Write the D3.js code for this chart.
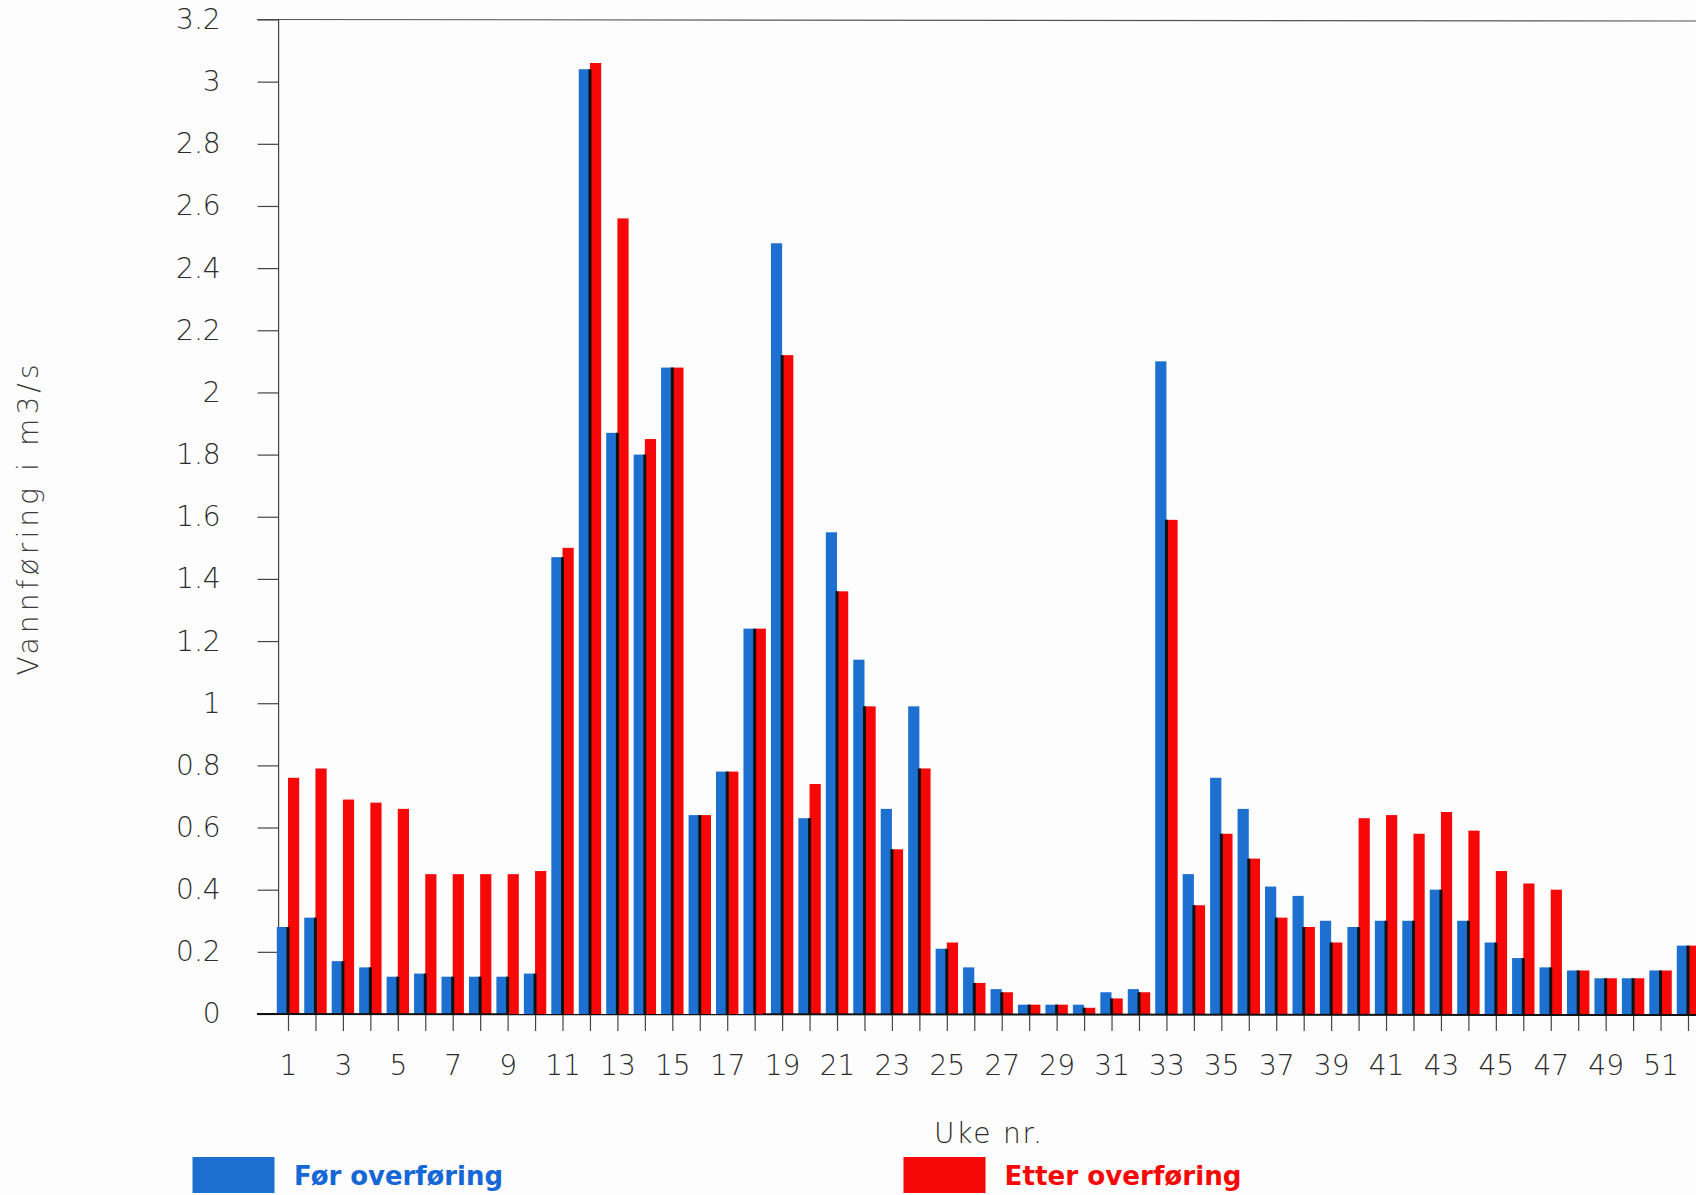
<!DOCTYPE html>
<html>
<head>
<meta charset="utf-8">
<script src="https://cdn.jsdelivr.net/npm/d3@7"></script>
<style>
  html, body { margin: 0; padding: 0; background: #fdfdfd; }
  svg { display: block; }
</style>
</head>
<body>
<svg id="chart" width="1696" height="1195"></svg>
<script>
// Weekly discharge (m3/s) before and after the transfer
const weeks = [1,2,3,4,5,6,7,8,9,10,11,12,13,14,15,16,17,18,19,20,21,22,23,24,25,26,
               27,28,29,30,31,32,33,34,35,36,37,38,39,40,41,42,43,44,45,46,47,48,49,50,51,52];

const forOverforing = [0.28,0.31,0.17,0.15,0.12,0.13,0.12,0.12,0.12,0.13,
                       1.47,3.04,1.87,1.80,2.08,0.64,0.78,1.24,2.48,0.63,
                       1.55,1.14,0.66,0.99,0.21,0.15,0.08,0.03,0.03,0.03,
                       0.07,0.08,2.10,0.45,0.76,0.66,0.41,0.38,0.30,0.28,
                       0.30,0.30,0.40,0.30,0.23,0.18,0.15,0.14,0.115,0.115,
                       0.14,0.22];

const etterOverforing = [0.76,0.79,0.69,0.68,0.66,0.45,0.45,0.45,0.45,0.46,
                         1.50,3.06,2.56,1.85,2.08,0.64,0.78,1.24,2.12,0.74,
                         1.36,0.99,0.53,0.79,0.23,0.10,0.07,0.03,0.03,0.02,
                         0.05,0.07,1.59,0.35,0.58,0.50,0.31,0.28,0.23,0.63,
                         0.64,0.58,0.65,0.59,0.46,0.42,0.40,0.14,0.115,0.115,
                         0.14,0.22];

const yTicks = [0,0.2,0.4,0.6,0.8,1,1.2,1.4,1.6,1.8,2,2.2,2.4,2.6,2.8,3,3.2];
const xLabelWeeks = [1,3,5,7,9,11,13,15,17,19,21,23,25,27,29,31,33,35,37,39,41,43,45,47,49,51];

const seriesNames = ["Før overføring", "Etter overføring"];
const seriesColors = ["#1d6fd0", "#f70808"];

const svg = d3.select("#chart");
const W = 1696;

const axisLeftX = 278.6;
const baseY = 1014;
const topY = 19.5;

const x = d3.scaleLinear().domain([1, 52]).range([288, 1688]);
const y = d3.scaleLinear().domain([0, 3.2]).range([baseY, topY]);
const barW = 11.2;

const tickFont = "'DejaVu Sans', 'Liberation Sans', sans-serif";

// frame lines
svg.append("line")
  .attr("x1", 257).attr("x2", W).attr("y1", topY).attr("y2", topY + 1.5)
  .attr("stroke", "#555").attr("stroke-width", 1.2);
svg.append("line")
  .attr("x1", axisLeftX).attr("x2", axisLeftX).attr("y1", topY).attr("y2", baseY)
  .attr("stroke", "#444").attr("stroke-width", 1.2);

// y axis
const yAxis = svg.append("g")
  .attr("transform", `translate(${axisLeftX},0)`)
  .call(d3.axisLeft(y).tickValues(yTicks).tickSize(21).tickPadding(37)
        .tickFormat(d => String(+d.toFixed(1))));
yAxis.select(".domain").remove();
yAxis.selectAll(".tick line").attr("stroke", "#444").attr("stroke-width", 1.2);
yAxis.selectAll(".tick text")
  .attr("font-family", tickFont).attr("font-size", 28).attr("font-weight", 200)
  .attr("fill", "#2b2b2b");

// x axis
const xAxis = svg.append("g")
  .attr("transform", `translate(0,${baseY})`)
  .call(d3.axisBottom(x).tickValues(weeks).tickSize(17).tickPadding(24)
        .tickFormat(d => xLabelWeeks.includes(d) ? String(d) : ""));
xAxis.select(".domain").remove();
xAxis.selectAll(".tick line").attr("stroke", "#444").attr("stroke-width", 1.2);
xAxis.selectAll(".tick text")
  .attr("font-family", tickFont).attr("font-size", 28).attr("font-weight", 200)
  .attr("fill", "#2b2b2b");

// bars
const rows = weeks.map((w, i) => ({ w, a: forOverforing[i], b: etterOverforing[i] }));
const bars = svg.append("g");
bars.selectAll("rect.for").data(rows).join("rect")
  .attr("class", "for")
  .attr("x", d => x(d.w) - barW).attr("width", barW)
  .attr("y", d => y(d.a)).attr("height", d => baseY - y(d.a))
  .attr("fill", seriesColors[0]);
bars.selectAll("rect.etter").data(rows).join("rect")
  .attr("class", "etter")
  .attr("x", d => x(d.w)).attr("width", barW)
  .attr("y", d => y(d.b)).attr("height", d => baseY - y(d.b))
  .attr("fill", seriesColors[1]);
// dark seam where the two bars of a week meet
bars.selectAll("line.seam").data(rows).join("line")
  .attr("class", "seam")
  .attr("x1", d => x(d.w)).attr("x2", d => x(d.w))
  .attr("y1", baseY).attr("y2", d => y(Math.min(d.a, d.b)))
  .attr("stroke", "#111").attr("stroke-width", 3);

// baseline
svg.append("line")
  .attr("x1", 257).attr("x2", W).attr("y1", baseY).attr("y2", baseY + 1)
  .attr("stroke", "#111").attr("stroke-width", 2);

// axis titles
svg.append("text")
  .attr("x", 988).attr("y", 1143).attr("text-anchor", "middle")
  .attr("font-family", tickFont).attr("font-size", 28).attr("font-weight", 200)
  .attr("fill", "#2b2b2b")
  .attr("textLength", 108).attr("lengthAdjust", "spacing")
  .text("Uke nr.");

svg.append("text")
  .attr("transform", "translate(38,520) rotate(-90)")
  .attr("text-anchor", "middle")
  .attr("font-family", tickFont).attr("font-size", 28).attr("font-weight", 200)
  .attr("fill", "#3a3a3a")
  .attr("textLength", 311).attr("lengthAdjust", "spacing")
  .text("Vannføring i m3/s");

// legend
const legend = [
  { sx: 192.5, tx: 294, tw: 209 },
  { sx: 903.5, tx: 1004.5, tw: 237 }
];
const lg = svg.append("g");
lg.selectAll("rect").data(legend).join("rect")
  .attr("x", d => d.sx).attr("y", 1157).attr("width", 82).attr("height", 36)
  .attr("fill", (d, i) => seriesColors[i]);
lg.selectAll("text").data(legend).join("text")
  .attr("x", d => d.tx).attr("y", 1185)
  .attr("font-family", tickFont).attr("font-size", 26).attr("font-weight", "bold")
  .attr("fill", (d, i) => i === 0 ? "#1566d6" : seriesColors[1])
  .attr("textLength", d => d.tw).attr("lengthAdjust", "spacingAndGlyphs")
  .text((d, i) => seriesNames[i]);
</script>
</body>
</html>
